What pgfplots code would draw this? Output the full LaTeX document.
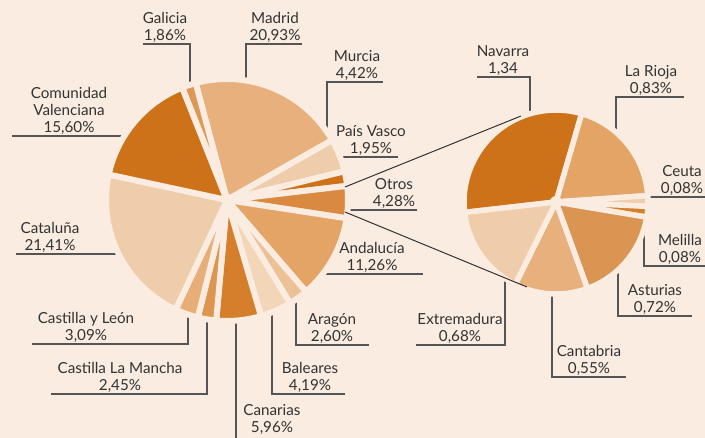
\documentclass[border=0pt]{standalone}
\usepackage{fontspec}
\setmainfont{Lato}
\usepackage{pgfplots}
\usepackage{pgfplotstable}
\pgfplotsset{compat=1.18}
\definecolor{bg}{HTML}{FAECE0}
\definecolor{tx}{HTML}{333333}
\definecolor{ln}{HTML}{555555}
\definecolor{cDark}{HTML}{CD7219}
\definecolor{cMadrid}{HTML}{E7B07C}
\definecolor{cGal}{HTML}{DD9855}
\definecolor{cLight}{HTML}{F0CDAA}
\definecolor{cCyL}{HTML}{E8AE78}
\definecolor{cCLM}{HTML}{DD9550}
\definecolor{cCan}{HTML}{D57F2C}
\definecolor{cBal}{HTML}{F3D6B8}
\definecolor{cArag}{HTML}{ECC196}
\definecolor{cAnd}{HTML}{E3A466}
\definecolor{cOtros}{HTML}{D98A40}
\definecolor{cMel}{HTML}{D67E28}
\definecolor{cAst}{HTML}{DB9552}
\tikzset{
  lab/.style={font=\fontsize{15.2}{17}\selectfont, text=tx, align=center, inner sep=0pt, anchor=south},
  ll/.style={draw=ln, line width=1.2pt}}

\pgfplotstableread[col sep=comma]{
name,value,col
Madrid,20.93,cMadrid
Murcia,4.42,cLight
PaisVasco,1.95,cDark
Otros,4.28,cOtros
Andalucia,11.26,cAnd
Aragon,2.60,cArag
Baleares,4.19,cBal
Canarias,5.96,cCan
CastillaLaMancha,2.45,cCLM
CastillaYLeon,3.09,cCyL
Cataluna,21.41,cLight
ComunidadValenciana,15.60,cDark
Galicia,1.86,cGal
}\mainpie

\pgfplotstableread[col sep=comma]{
name,value,col
Navarra,1.34,cDark
LaRioja,0.83,cAnd
Ceuta,0.08,cLight
Melilla,0.08,cMel
Asturias,0.72,cAst
Cantabria,0.55,cMadrid
Extremadura,0.68,cLight
}\otrospie

% #1 table, #2 cx, #3 cy, #4 radius, #5 start angle, #6 degrees per unit, #7 gap width
\newcommand\drawpie[7]{%
  \pgfplotstablegetrowsof{#1}%
  \pgfmathtruncatemacro\pieN{\pgfplotsretval-1}%
  \xdef\curang{#5}%
  \pgfplotsforeachungrouped \i in {0,...,\pieN}{%
    \pgfplotstablegetelem{\i}{value}\of#1\let\sliceval\pgfplotsretval
    \pgfplotstablegetelem{\i}{col}\of#1\let\slicecol\pgfplotsretval
    \pgfmathsetmacro\nextang{\curang-\sliceval*#6}%
    \edef\temp{\noexpand\fill[\slicecol,draw=bg,line width=#7,line join=round] (axis cs:#2,#3) -- +(\curang:#4pt) arc[start angle=\curang,end angle=\nextang,radius=#4pt] -- cycle;}%
    \temp
    \xdef\curang{\nextang}%
  }%
  \edef\temp{\noexpand\fill[bg] (axis cs:#2,#3) circle[radius=6pt];}\temp
}

\begin{document}
\begin{tikzpicture}
\begin{axis}[x=1pt, y=1pt, y dir=reverse, xmin=0, xmax=705, ymin=0, ymax=438,
  hide axis, scale only axis, clip=true]
\fill[bg] (rel axis cs:0,0) rectangle (rel axis cs:1,1);
% leader lines
\draw[ll] (axis cs:143,44) -- (axis cs:190,44) -- (axis cs:190,88);
\draw[ll] (axis cs:302,44) -- (axis cs:246,44) -- (axis cs:246,84);
\draw[ll] (axis cs:12,136) -- (axis cs:126,136);
\draw[ll] (axis cs:383,82) -- (axis cs:327,82) -- (axis cs:327,146);
\draw[ll] (axis cs:398,157) -- (axis cs:342,157) -- (axis cs:342,174);
\draw[ll] (axis cs:343,210) -- (axis cs:417,210);
\draw[ll] (axis cs:318,274) -- (axis cs:423,274);
\draw[ll] (axis cs:296,297) -- (axis cs:296,345) -- (axis cs:369,345);
\draw[ll] (axis cs:272,310) -- (axis cs:272,394) -- (axis cs:345,394);
\draw[ll] (axis cs:236,318) -- (axis cs:236,440);
\draw[ll] (axis cs:51,394) -- (axis cs:207,394) -- (axis cs:207,317);
\draw[ll] (axis cs:32,344) -- (axis cs:188,344) -- (axis cs:188,312);
\draw[ll] (axis cs:16,254) -- (axis cs:121,254);
\draw[ll] (axis cs:477,77) -- (axis cs:530,77) -- (axis cs:530,116);
\draw[ll] (axis cs:616,134) -- (axis cs:616,97) -- (axis cs:684,97);
\draw[ll] (axis cs:645,197) -- (axis cs:706,197);
\draw[ll] (axis cs:644,208) -- (axis cs:644,266) -- (axis cs:706,266);
\draw[ll] (axis cs:618,266) -- (axis cs:618,316) -- (axis cs:692,316);
\draw[ll] (axis cs:552,289) -- (axis cs:552,377) -- (axis cs:626,377);
\draw[ll] (axis cs:505,276) -- (axis cs:505,345) -- (axis cs:416,345);
% pies
\drawpie{\mainpie}{227}{200}{121}{105}{3.6}{6pt}
\drawpie{\otrospie}{556}{202}{92}{186.5}{84.1121}{5.5pt}
% connector lines
\draw[draw=tx, line width=1pt] (axis cs:345,187) -- (axis cs:521,116);
\draw[draw=tx, line width=1pt] (axis cs:345,212) -- (axis cs:527,287);
% labels
\node[lab] at (axis cs:165,43) {Galicia\\1,86\%};
\node[lab] at (axis cs:275,43) {Madrid\\20,93\%};
\node[lab] at (axis cs:69,135) {Comunidad\\Valenciana\\15,60\%};
\node[lab] at (axis cs:357,81) {Murcia\\4,42\%};
\node[lab] at (axis cs:371,156) {País Vasco\\1,95\%};
\node[lab] at (axis cs:394,209) {Otros\\4,28\%};
\node[lab] at (axis cs:372,273) {Andalucía\\11,26\%};
\node[lab] at (axis cs:332,344) {Aragón\\2,60\%};
\node[lab] at (axis cs:310,393) {Baleares\\4,19\%};
\node[lab, anchor=north] at (axis cs:272,404) {Canarias\\5,96\%};
\node[lab] at (axis cs:120,393) {Castilla La Mancha\\2,45\%};
\node[lab] at (axis cs:86,343) {Castilla y León\\3,09\%};
\node[lab] at (axis cs:50,253) {Cataluña\\21,41\%};
\node[lab] at (axis cs:503,76) {Navarra\\1,34};
\node[lab] at (axis cs:651,96) {La Rioja\\0,83\%};
\node[lab] at (axis cs:682,196) {Ceuta\\0,08\%};
\node[lab] at (axis cs:680,265) {Melilla\\0,08\%};
\node[lab] at (axis cs:655,315) {Asturias\\0,72\%};
\node[lab] at (axis cs:589,376) {Cantabria\\0,55\%};
\node[lab] at (axis cs:460,344) {Extremadura\\0,68\%};
\end{axis}
\pgfresetboundingbox
\path[use as bounding box] (current axis.south west) rectangle (current axis.north east);
\end{tikzpicture}
\end{document}
